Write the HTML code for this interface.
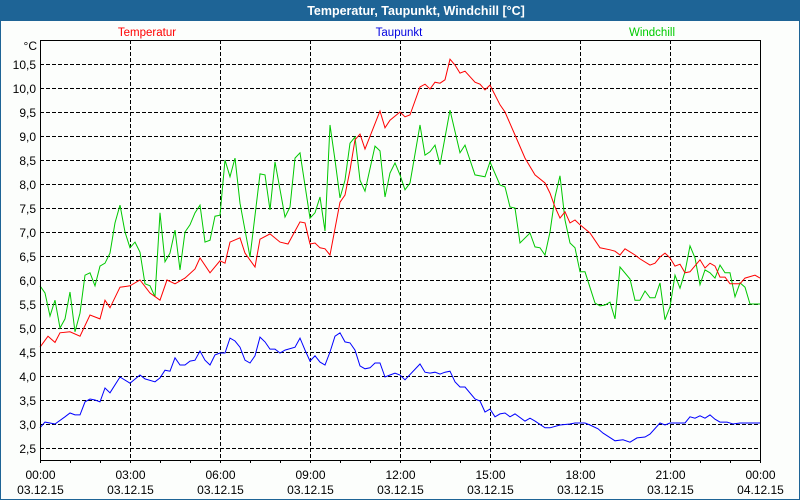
<!DOCTYPE html>
<html><head><meta charset="utf-8"><style>
html,body{margin:0;padding:0;background:#fcfefc}
svg{display:block;font-family:"Liberation Sans","DejaVu Sans",sans-serif}
</style></head><body>
<svg id="chart" width="800" height="500" viewBox="0 0 800 500" xmlns="http://www.w3.org/2000/svg">
<rect x="0" y="0" width="800" height="500" fill="#1e6496"/>
<rect x="1" y="21" width="798" height="478" fill="#fcfefc"/>
<text x="416" y="15" text-anchor="middle" fill="#fff" font-size="12.5" font-weight="bold">Temperatur, Taupunkt, Windchill [°C]</text>
<text x="147" y="36" text-anchor="middle" fill="#ff0000" font-size="11.5">Temperatur</text>
<text x="399" y="36" text-anchor="middle" fill="#0000e0" font-size="11.5">Taupunkt</text>
<text x="652" y="36" text-anchor="middle" fill="#00cc00" font-size="11.5">Windchill</text>
<text x="37" y="50" text-anchor="end" fill="#000" font-size="12">°C</text>
<g id="grid"></g>
<g id="series"></g>
<g id="axes"></g>
</svg>
<script>
const yTicks = [2.5,3.0,3.5,4.0,4.5,5.0,5.5,6.0,6.5,7.0,7.5,8.0,8.5,9.0,9.5,10.0,10.5];
const xTickHours = [0,3,6,9,12,15,18,21,24];
const xTickTimes = ["00:00","03:00","06:00","09:00","12:00","15:00","18:00","21:00","00:00"];
const xTickDates = ["03.12.15","03.12.15","03.12.15","03.12.15","03.12.15","03.12.15","03.12.15","03.12.15","04.12.15"];

const tempX = [40,48,55,60,70,80,90,100,105,110,120,130,140,150,160,167,175,185,195,200,210,220,225,230,240,245,255,260,270,280,288,300,305,310,315,320,325,330,340,345,350,355,360,365,380,385,390,400,405,410,420,425,430,435,440,445,450,455,460,465,475,480,485,490,500,505,515,525,535,545,550,555,560,565,570,575,580,590,600,610,615,620,625,635,640,650,655,660,665,670,675,680,685,690,700,705,710,715,720,725,730,740,745,755,760];
const tempV = [4.6,4.83,4.7,4.9,4.92,4.83,5.27,5.19,5.58,5.42,5.85,5.88,6.0,5.73,5.58,6.0,5.92,6.04,6.23,6.46,6.15,6.4,6.35,6.79,6.88,6.56,6.27,6.85,6.96,6.79,6.75,7.21,7.19,6.75,6.77,6.67,6.65,6.52,7.62,7.77,8.29,8.92,9.04,8.73,9.52,9.17,9.33,9.5,9.4,9.44,10.02,10.08,9.98,10.12,10.1,10.17,10.6,10.48,10.31,10.35,10.12,10.08,9.96,10.06,9.65,9.5,9.02,8.54,8.19,8.02,7.81,7.52,7.29,7.42,7.19,7.25,7.15,6.98,6.67,6.63,6.6,6.52,6.65,6.52,6.44,6.31,6.35,6.48,6.56,6.46,6.29,6.33,6.15,6.17,6.42,6.25,6.35,6.29,6.06,6.06,5.92,5.92,6.04,6.1,6.04];

const dewX = [40,45,55,65,70,75,80,85,90,95,100,105,110,120,130,140,145,155,160,165,170,175,180,185,190,195,200,205,210,215,220,225,230,235,240,245,250,255,260,265,270,275,280,285,295,300,305,310,315,320,325,330,335,340,345,350,355,360,365,370,375,380,385,390,395,400,405,420,425,430,435,440,445,450,455,460,465,475,480,485,490,495,500,505,510,515,525,530,535,545,550,560,570,575,585,590,598,603,615,623,630,637,645,650,660,665,670,680,685,690,695,700,705,710,715,720,727,733,740,750,760];
const dewV = [2.92,3.04,3.0,3.15,3.23,3.19,3.19,3.46,3.52,3.5,3.46,3.75,3.65,3.98,3.85,4.02,3.94,3.88,3.96,4.12,4.1,4.38,4.23,4.23,4.31,4.33,4.52,4.33,4.23,4.44,4.48,4.48,4.79,4.73,4.6,4.33,4.27,4.42,4.81,4.71,4.56,4.56,4.48,4.54,4.6,4.79,4.54,4.31,4.42,4.29,4.23,4.5,4.83,4.9,4.71,4.69,4.54,4.21,4.15,4.17,4.27,4.27,3.98,4.02,4.06,4.02,3.92,4.25,4.08,4.06,4.08,4.04,4.08,4.1,3.88,3.77,3.77,3.52,3.48,3.25,3.31,3.15,3.21,3.23,3.15,3.21,3.06,3.12,3.06,2.92,2.92,2.98,3.0,3.02,3.02,2.98,2.9,2.81,2.65,2.67,2.62,2.71,2.73,2.79,3.02,2.98,3.02,3.02,3.02,3.15,3.12,3.17,3.12,3.19,3.1,3.04,3.04,3.0,3.02,3.02,3.02];

const windX = [40,45,50,55,60,65,70,75,80,85,90,95,100,105,110,115,120,125,130,135,140,145,150,155,160,165,170,175,180,185,190,195,200,205,210,215,220,225,230,235,240,250,260,265,270,275,285,290,295,300,310,315,320,325,330,335,340,345,350,355,360,365,375,380,385,390,395,400,405,410,420,425,430,435,440,450,460,465,475,485,490,500,505,510,515,520,530,535,540,545,550,555,560,565,570,575,580,585,595,600,605,610,615,620,630,635,640,645,650,655,660,665,670,675,680,685,690,695,700,705,710,715,720,725,730,735,740,745,750,755,760];
const windV = [5.88,5.73,5.25,5.58,5.0,5.19,5.75,4.92,5.31,6.1,6.15,5.88,6.29,6.35,6.56,7.19,7.56,7.0,6.67,6.79,6.58,5.92,5.88,5.65,7.4,6.38,6.56,7.04,6.21,7.0,7.15,7.4,7.56,6.79,6.83,7.33,7.35,8.5,8.15,8.54,7.6,6.48,8.21,8.19,7.46,8.46,7.31,7.52,8.54,8.65,7.29,7.4,7.73,7.02,9.23,8.5,7.71,8.08,8.85,8.98,8.08,7.85,8.79,8.69,7.73,8.23,8.44,8.19,7.88,8.02,9.23,8.6,8.67,8.81,8.4,9.54,8.65,8.81,8.19,8.15,8.46,7.98,7.94,7.52,7.5,6.77,6.98,6.69,6.67,6.52,7.0,7.73,8.17,7.25,6.77,6.67,6.17,6.17,5.52,5.46,5.48,5.54,5.19,6.27,6.02,5.58,5.58,5.77,5.63,5.63,5.94,5.17,5.44,6.1,5.83,6.17,6.71,6.46,5.9,6.21,6.15,6.04,6.31,6.15,6.15,5.65,5.94,5.85,5.5,5.5,5.5];

const NS = "http://www.w3.org/2000/svg";
const X0 = 40, X1 = 760, YTOP = 64, VTOP = 10.5, PXPER = 48, PLOT_TOP = 40, PLOT_BOT = 460;
function xScaleHour(h){ return X0 + h * (X1 - X0) / 24; }
function xScalePix(px){ return xScaleHour((px - 40) / 30); }
function yScale(v){ return YTOP + (VTOP - v) * PXPER; }
function mk(tag, attrs, parent){
  const e = document.createElementNS(NS, tag);
  for (const k in attrs) e.setAttribute(k, attrs[k]);
  parent.appendChild(e);
  return e;
}
const grid = document.getElementById('grid');
const axes = document.getElementById('axes');
const series = document.getElementById('series');

yTicks.forEach(function(v){
  const y = Math.round(yScale(v)) + 0.5;
  const l = mk('line', {x1: X0, x2: X1, y1: y, y2: y, stroke: '#000', 'stroke-width': 1, 'stroke-dasharray': '4,2', 'shape-rendering': 'crispEdges'}, grid);
  
  
  const t = mk('text', {x: 36, y: y + 4.5, 'text-anchor': 'end', 'font-size': 12, fill: '#000'}, axes);
  t.textContent = v.toFixed(1).replace('.', ',');
  
  
});
xTickHours.forEach(function(h, i){
  const x = Math.round(xScaleHour(h)) + 0.5;
  if (h > 0 && h < 24) {
    const l = mk('line', {x1: x, x2: x, y1: PLOT_TOP, y2: PLOT_BOT + 2, stroke: '#000', 'stroke-width': 1, 'stroke-dasharray': '4,2', 'shape-rendering': 'crispEdges'}, grid);
    
    
  }
  const t1 = mk('text', {x: x, y: 479, 'text-anchor': 'middle', 'font-size': 12, fill: '#000'}, axes);
  t1.textContent = xTickTimes[i];
  
  
  const t2 = mk('text', {x: x, y: 494, 'text-anchor': 'middle', 'font-size': 12, fill: '#000'}, axes);
  t2.textContent = xTickDates[i];
  
  
});
for (let h = 1; h < 24; h++) {
  const x = Math.round(xScaleHour(h)) + 0.5;
  const l = mk('line', {x1: x, x2: x, y1: PLOT_BOT, y2: PLOT_BOT + 3, stroke: '#000', 'stroke-width': 1, 'shape-rendering': 'crispEdges'}, axes);
  
  
}
const frame = mk('path', {d: 'M40.5,' + (PLOT_BOT + 3) + ' V40.5 H760.5 V' + (PLOT_BOT + 3) + ' M40.5,' + (PLOT_BOT + 0.5) + ' H760.5', fill: 'none', stroke: '#000', 'stroke-width': 1, 'shape-rendering': 'crispEdges'}, axes);



function drawSeries(xs, vs, color, name){
  const pts = xs.map(function(px, i){ return xScalePix(px).toFixed(1) + ',' + yScale(vs[i]).toFixed(1); }).join(' ');
  const p = mk('polyline', {points: pts, fill: 'none', stroke: color, 'stroke-width': 1, 'stroke-linejoin': 'miter'}, series);
  
  
}
drawSeries(windX, windV, '#00c800', 'windchill-line');
drawSeries(tempX, tempV, '#ff0000', 'temperatur-line');
drawSeries(dewX, dewV, '#0000ff', 'taupunkt-line');
</script>
</body></html>
